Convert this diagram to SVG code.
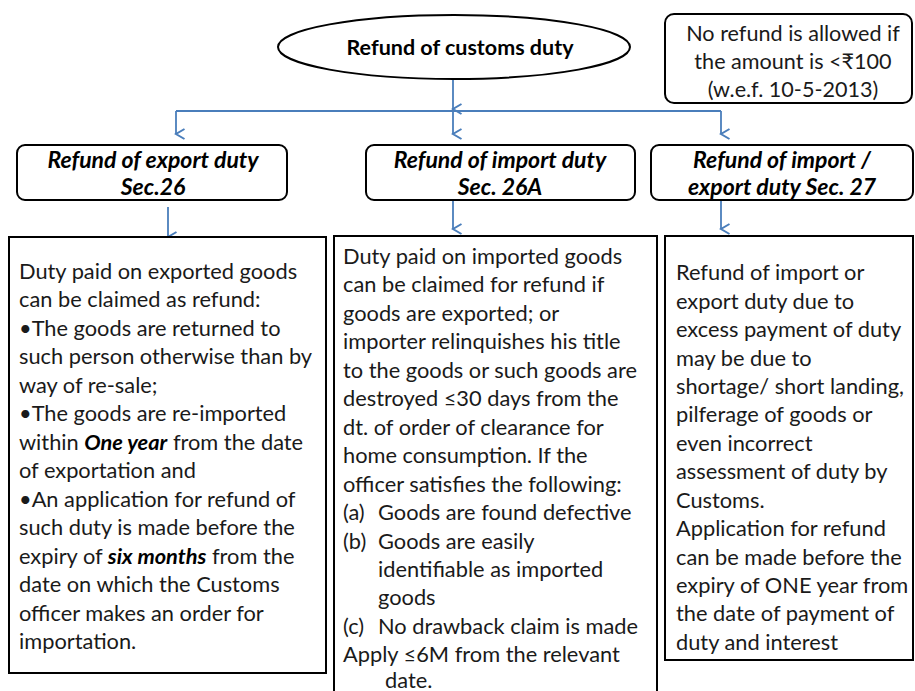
<svg xmlns="http://www.w3.org/2000/svg" width="915" height="691" viewBox="0 0 915 691">
<defs>
<marker id="ah" markerWidth="12" markerHeight="12" refX="6" refY="10" orient="auto" markerUnits="userSpaceOnUse" viewBox="0 0 12 12">
<path d="M1,1.5 L6,10 L11,1.5" fill="none" stroke="#4a7ebb" stroke-width="2"/>
</marker>
</defs>
<style>
.box{fill:#fff;stroke:#000;stroke-width:2}
.hdr{font-family:Lato,"Liberation Sans",sans-serif;font-weight:bold;font-style:italic;font-size:23px;fill:#000;text-anchor:middle}
.body{font-family:Lato,"Liberation Sans",sans-serif;font-size:21.8px;fill:#1a1a1a}
.note{font-family:Lato,"Liberation Sans",sans-serif;font-size:21.6px;fill:#1a1a1a;text-anchor:middle}
.conn{fill:none;stroke:#4a7ebb;stroke-width:1.8}
</style>
<rect width="915" height="691" fill="#fff"/>
<g id="connectors">
<line class="conn" x1="453" y1="80" x2="453" y2="109" marker-end="url(#ah)"/>
<line class="conn" x1="176" y1="111" x2="721" y2="111"/>
<line class="conn" x1="176" y1="111" x2="176" y2="134" marker-end="url(#ah)"/>
<line class="conn" x1="453" y1="108" x2="453" y2="134" marker-end="url(#ah)"/>
<line class="conn" x1="721" y1="111" x2="721" y2="134" marker-end="url(#ah)"/>
<line class="conn" x1="168" y1="207" x2="168" y2="237" marker-end="url(#ah)"/>
<line class="conn" x1="453" y1="200" x2="453" y2="229" marker-end="url(#ah)"/>
<line class="conn" x1="721" y1="200" x2="721" y2="229" marker-end="url(#ah)"/>
</g>
<g id="root">
<ellipse class="box" cx="454" cy="47" rx="176" ry="32"/>
<text class="hdr" style="font-style:normal;font-size:21.5px" x="460" y="55">Refund of customs duty</text>
</g>
<g id="note">
<rect class="box" x="665" y="14" width="247" height="89" rx="9"/>
<text class="note" x="793" y="41">No refund is allowed if</text>
<text class="note" x="793" y="69">the amount is &lt;₹100</text>
<text class="note" x="793" y="97">(w.e.f. 10-5-2013)</text>
</g>
<g id="h1">
<rect class="box" x="17" y="145" width="270" height="55" rx="8"/>
<text class="hdr" x="153" y="168">Refund of export duty</text>
<text class="hdr" x="153" y="195">Sec.26</text>
</g>
<g id="h2">
<rect class="box" x="366" y="145" width="269" height="55" rx="8"/>
<text class="hdr" x="500" y="168">Refund of import duty</text>
<text class="hdr" x="500" y="195">Sec. 26A</text>
</g>
<g id="h3">
<rect class="box" x="651" y="145" width="262" height="55" rx="8"/>
<text class="hdr" x="782" y="168">Refund of import /</text>
<text class="hdr" x="782" y="195">export duty Sec. 27</text>
</g>
<g id="b1">
<rect class="box" x="9" y="237" width="317" height="436"/>
<text class="body" x="19" y="279">Duty paid on exported goods</text>
<text class="body" x="19" y="307">can be claimed as refund:</text>
<text class="body" x="19" y="336">•The goods are returned to</text>
<text class="body" x="19" y="364">such person otherwise than by</text>
<text class="body" x="19" y="393">way of re-sale;</text>
<text class="body" x="19" y="421">•The goods are re-imported</text>
<text class="body" x="19" y="450">within <tspan font-weight="bold" font-style="italic" fill="#000">One year</tspan> from the date</text>
<text class="body" x="19" y="478">of exportation and</text>
<text class="body" x="19" y="507">•An application for refund of</text>
<text class="body" x="19" y="535">such duty is made before the</text>
<text class="body" x="19" y="564">expiry of <tspan font-weight="bold" font-style="italic" fill="#000">six months</tspan> from the</text>
<text class="body" x="19" y="592">date on which the Customs</text>
<text class="body" x="19" y="621">officer makes an order for</text>
<text class="body" x="19" y="649">importation.</text>
</g>
<g id="b2">
<rect class="box" x="334" y="236" width="323" height="470"/>
<text class="body" x="343" y="264">Duty paid on imported goods</text>
<text class="body" x="343" y="292">can be claimed for refund if</text>
<text class="body" x="343" y="321">goods are exported; or</text>
<text class="body" x="343" y="349">importer relinquishes his title</text>
<text class="body" x="343" y="378">to the goods or such goods are</text>
<text class="body" x="343" y="406">destroyed ≤30 days from the</text>
<text class="body" x="343" y="435">dt. of order of clearance for</text>
<text class="body" x="343" y="463">home consumption. If the</text>
<text class="body" x="343" y="492">officer satisfies the following:</text>
<text class="body" x="343" y="520">(a)</text><text class="body" x="378" y="520">Goods are found defective</text>
<text class="body" x="343" y="549">(b)</text><text class="body" x="378" y="549">Goods are easily</text>
<text class="body" x="378" y="577">identifiable as imported</text>
<text class="body" x="378" y="605">goods</text>
<text class="body" x="343" y="634">(c)</text><text class="body" x="378" y="634">No drawback claim is made</text>
<text class="body" x="343" y="662">Apply ≤6M from the relevant</text>
<text class="body" x="385" y="688">date.</text>
</g>
<g id="b3">
<rect class="box" x="665" y="236" width="248" height="424"/>
<text class="body" x="676" y="280">Refund of import or</text>
<text class="body" x="676" y="309">export duty due to</text>
<text class="body" x="676" y="337">excess payment of duty</text>
<text class="body" x="676" y="366">may be due to</text>
<text class="body" x="676" y="394">shortage/ short landing,</text>
<text class="body" x="676" y="422">pilferage of goods or</text>
<text class="body" x="676" y="451">even incorrect</text>
<text class="body" x="676" y="479">assessment of duty by</text>
<text class="body" x="676" y="508">Customs.</text>
<text class="body" x="676" y="536">Application for refund</text>
<text class="body" x="676" y="565">can be made before the</text>
<text class="body" x="676" y="593">expiry of ONE year from</text>
<text class="body" x="676" y="621">the date of payment of</text>
<text class="body" x="676" y="650">duty and interest</text>
</g>
</svg>
